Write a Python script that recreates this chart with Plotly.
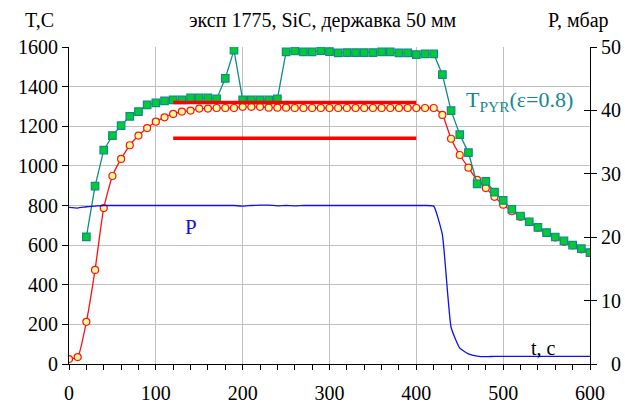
import plotly.graph_objects as go

# ---- data ----
t_red = list(range(0, 601, 10))
T_thermo = [25, 35, 213, 475, 787, 949, 1035, 1104, 1153, 1191, 1223, 1245, 1262, 1274, 1279,
            1289, 1289, 1292, 1292, 1292, 1298, 1298, 1298, 1294, 1294, 1294, 1292, 1292, 1292,
            1292, 1292, 1292, 1292, 1292, 1292, 1292, 1292, 1292, 1292, 1292, 1292, 1292, 1292,
            1257, 1137, 1055, 991, 929, 888, 844, 804, 771, 743, 717, 688, 663, 639, 617, 599, 579, 562]

t_pyr = list(range(20, 601, 10))
T_pyr = [642, 898, 1079, 1153, 1203, 1250, 1274, 1308, 1318, 1328, 1333, 1333, 1343, 1343, 1343,
         1338, 1442, 1584, 1333, 1333, 1333, 1333, 1338, 1575, 1580, 1575, 1575, 1582, 1577, 1570,
         1572, 1572, 1572, 1572, 1575, 1575, 1570, 1570, 1562, 1565, 1565, 1461, 1279, 1158, 1067,
         909, 922, 868, 826, 781, 747, 718, 690, 663, 641, 621, 600, 582, 562]

t_p = list(range(0, 601, 10))
P_mbar = [24.7, 24.6, 24.8, 24.9, 25.0, 25.0, 25.0, 25.0, 25.0, 25.0, 25.0, 25.0, 25.0, 25.0, 25.0,
          25.0, 25.0, 25.0, 25.0, 25.0, 24.9, 25.0, 25.05, 25.05, 24.95, 25.0, 24.95, 25.0, 25.0,
          25.0, 25.0, 25.0, 25.0, 25.0, 25.0, 25.0, 25.0, 25.0, 25.0, 25.0, 25.0, 25.0, 24.9,
          20.4, 5.8, 2.5, 1.6, 1.25, 1.15, 1.2, 1.2, 1.2, 1.2, 1.2, 1.2, 1.2, 1.2, 1.2, 1.2, 1.2, 1.2]

ref_levels = [1320, 1140]
ref_t = [120, 400]

x_ticks = [0, 100, 200, 300, 400, 500, 600]
y_ticks = [0, 200, 400, 600, 800, 1000, 1200, 1400, 1600]
y2_ticks = [0, 10, 20, 30, 40, 50]
y2_labels = ["\u20070", "10", "20", "30", "40", "50"]

title_text = "эксп 1775, SiC, державка 50 мм"

FONT = "'Liberation Serif', 'Times New Roman', 'DejaVu Serif', serif"
GRID = "#C0C0C0"
TEAL = "#138A8A"

fig = go.Figure()

fig.add_trace(go.Scatter(x=t_p, y=P_mbar, yaxis="y2", mode="lines",
                         line=dict(color="#1010F0", width=1.3, shape="spline", smoothing=0.4),
                         showlegend=False, hoverinfo="skip"))

fig.add_trace(go.Scatter(x=t_red, y=T_thermo, mode="lines+markers",
                         line=dict(color="#FF1010", width=1.3, shape="spline", smoothing=0.5),
                         marker=dict(symbol="circle", size=7, color="#FFFF99",
                                     line=dict(color="#FF1010", width=1.2)),
                         showlegend=False))

fig.add_trace(go.Scatter(x=t_pyr, y=T_pyr, mode="lines+markers",
                         line=dict(color=TEAL, width=1.3),
                         marker=dict(symbol="square", size=7.5, color="#00CC33",
                                     line=dict(color=TEAL, width=1.2)),
                         showlegend=False))

for lvl in ref_levels:
    fig.add_trace(go.Scatter(x=ref_t, y=[lvl, lvl], mode="lines",
                             line=dict(color="#FF0000", width=3.5),
                             showlegend=False, hoverinfo="skip"))

# helper trace for inside ticks on the right axis
fig.add_trace(go.Scatter(x=[None], y=[None], yaxis="y3", showlegend=False))

fig.update_layout(
    width=625, height=407,
    margin=dict(l=69, r=35, t=47, b=43),
    paper_bgcolor="white", plot_bgcolor="white",
    font=dict(family=FONT, size=20, color="black"),
    xaxis=dict(range=[0, 600], tickvals=x_ticks, showgrid=True, gridcolor=GRID, gridwidth=1,
               ticks="outside", ticklen=5, tickcolor="black", tickwidth=1,
               showline=True, linecolor="black", linewidth=1, zeroline=False, automargin=False,
               minor=dict(dtick=20, ticks="outside", ticklen=5, tickcolor="black", showgrid=False),
               tickfont=dict(size=20, family=FONT), ticklabelstandoff=6),
    yaxis=dict(range=[0, 1600], tickvals=y_ticks, showgrid=True, gridcolor=GRID, gridwidth=1,
               ticks="outside", ticklen=6, tickcolor="black", showline=True, linecolor="black",
               linewidth=1, zeroline=False, automargin=False, tickfont=dict(size=20, family=FONT)),
    yaxis2=dict(range=[0, 50], tickvals=y2_ticks, ticktext=y2_labels, overlaying="y", side="right",
                showgrid=False, ticks="outside", ticklen=6, tickcolor="black", showline=True,
                linecolor="black", linewidth=1, zeroline=False, automargin=False,
                tickfont=dict(size=20, family=FONT)),
    yaxis3=dict(range=[0, 50], tickvals=y2_ticks, overlaying="y", side="right", showgrid=False,
                ticks="inside", ticklen=6, tickcolor="black", showticklabels=False,
                showline=False, zeroline=False, automargin=False),
    annotations=[
        dict(text=title_text, xref="paper", yref="paper", x=0.4875, y=1.085,
             xanchor="center", yanchor="middle", showarrow=False, font=dict(size=20)),
        dict(text="T,C", xref="paper", yref="paper", x=-0.056, y=1.085,
             xanchor="center", yanchor="middle", showarrow=False, font=dict(size=20)),
        dict(text="P, мбар", xref="paper", yref="paper", x=0.977, y=1.085,
             xanchor="center", yanchor="middle", showarrow=False, font=dict(size=20)),
        dict(text="P", x=141, y=690, xanchor="center", yanchor="middle", showarrow=False,
             font=dict(size=21, color="#1010F0")),
        dict(text="T<sub>PYR</sub>(\u03b5=0.8)", x=519, y=1328, xanchor="center", yanchor="middle",
             showarrow=False, font=dict(size=22, color=TEAL)),
        dict(text="t, c", x=547, y=81, xanchor="center", yanchor="middle", showarrow=False,
             font=dict(size=20)),
    ],
)

fig.write_html("out.html")
